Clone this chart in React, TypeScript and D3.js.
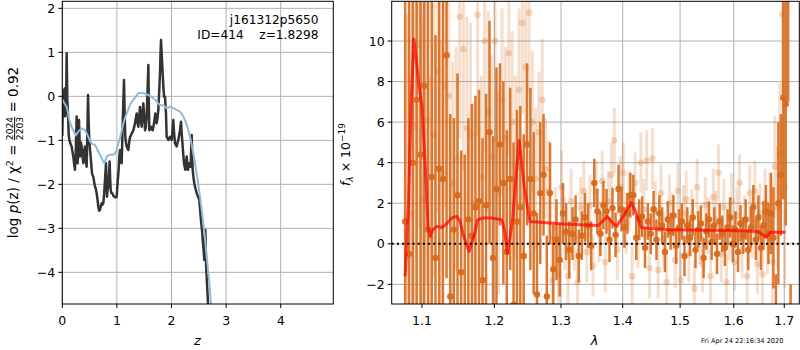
import * as d3 from 'd3';
import React from 'react';

// ---- left panel: log p(z) ----
const zTicks = [0, 1, 2, 3, 4];
const lnpTicks = [-4, -3, -2, -1, 0, 1, 2];

const pzZ = [0.000, 0.010, 0.019, 0.030, 0.043, 0.055, 0.068, 0.080, 0.092, 0.104, 0.116, 0.129, 0.150, 0.171, 0.185, 0.202, 0.218, 0.232, 0.248, 0.263, 0.281, 0.294, 0.306, 0.324, 0.340, 0.355, 0.370, 0.385, 0.400, 0.416, 0.431, 0.446, 0.460, 0.471, 0.483, 0.495, 0.507, 0.519, 0.531, 0.544, 0.568, 0.584, 0.599, 0.614, 0.629, 0.645, 0.660, 0.675, 0.690, 0.705, 0.721, 0.736, 0.751, 0.767, 0.782, 0.800, 0.819, 0.831, 0.843, 0.855, 0.867, 0.876, 0.886, 0.900, 0.916, 0.935, 0.953, 0.975, 0.996, 1.008, 1.020, 1.032, 1.045, 1.057, 1.072, 1.087, 1.097, 1.106, 1.118, 1.130, 1.142, 1.154, 1.166, 1.179, 1.194, 1.209, 1.225, 1.240, 1.255, 1.270, 1.285, 1.301, 1.316, 1.331, 1.346, 1.362, 1.377, 1.393, 1.408, 1.423, 1.438, 1.454, 1.469, 1.484, 1.500, 1.515, 1.530, 1.545, 1.560, 1.576, 1.585, 1.594, 1.606, 1.618, 1.636, 1.655, 1.667, 1.679, 1.692, 1.704, 1.716, 1.728, 1.743, 1.759, 1.774, 1.789, 1.798, 1.808, 1.823, 1.838, 1.850, 1.863, 1.881, 1.890, 1.899, 1.911, 1.927, 1.942, 1.957, 1.972, 1.988, 2.003, 2.018, 2.033, 2.048, 2.064, 2.080, 2.095, 2.110, 2.125, 2.141, 2.156, 2.174, 2.190, 2.205, 2.217, 2.229, 2.241, 2.253, 2.265, 2.278, 2.290, 2.302, 2.315, 2.327, 2.339, 2.351, 2.360, 2.369, 2.379, 2.388, 2.403, 2.418, 2.440, 2.461, 2.485, 2.510, 2.522, 2.534, 2.546, 2.559, 2.571, 2.583, 2.592, 2.601, 2.610, 2.620, 2.626, 2.632, 2.650, 2.669, 2.690];
const pzVal = [-0.90, -0.20, -0.46, 0.10, 0.18, -0.45, -0.30, 0.98, -0.10, -0.39, -0.85, -0.99, -1.08, -1.14, -1.25, -1.37, -1.55, -1.67, -1.20, -0.46, -1.52, -0.90, -0.54, -1.37, -1.05, -1.14, -1.35, -1.52, -1.25, -1.14, -1.45, -1.60, -0.80, 0.03, -0.60, -0.99, -1.20, -1.37, -1.55, -1.75, -1.83, -1.95, -2.05, -2.10, -2.20, -2.35, -2.51, -2.60, -2.58, -2.50, -2.43, -2.46, -2.43, -2.20, -1.90, -1.52, -2.28, -2.10, -2.05, -1.80, -1.48, -1.85, -2.13, -2.20, -2.20, -2.26, -2.28, -2.30, -2.28, -2.05, -1.85, -1.67, -1.35, -1.22, -1.40, -1.52, -1.10, -0.61, -0.10, 0.37, -0.40, -0.92, -1.05, -1.14, -1.18, -1.22, -1.05, -0.92, -0.90, -0.84, -0.82, -0.77, -0.70, -0.61, -0.50, -0.39, -0.60, -0.69, -0.45, -0.24, -0.50, -0.69, -0.40, -0.16, -0.45, -0.77, -0.70, -0.46, 0.10, 0.71, -0.20, -0.77, -0.72, -0.69, -0.75, -0.77, -0.70, -0.61, -0.50, -0.39, -0.55, -0.61, -0.50, -0.31, 0.10, 0.52, 0.95, 1.28, 0.90, 0.52, 0.25, -0.01, -0.01, -0.20, -0.39, -0.92, -0.95, -0.99, -0.95, -0.92, -0.95, -0.99, -0.80, -0.54, -0.85, -1.07, -1.10, -1.14, -1.05, -0.99, -0.88, -0.77, -0.58, -0.90, -1.14, -1.35, -1.52, -1.60, -1.67, -1.50, -1.37, -1.55, -1.67, -1.58, -1.52, -1.56, -1.60, -1.20, -0.88, -1.30, -1.67, -1.85, -1.98, -2.10, -2.20, -2.28, -2.36, -2.55, -2.74, -2.90, -3.04, -3.25, -3.42, -3.55, -3.72, -3.40, -3.04, -3.40, -3.80, -4.25, -4.71, -5.30];

const priorZ = [0.010, 0.019, 0.050, 0.080, 0.105, 0.129, 0.165, 0.202, 0.230, 0.251, 0.294, 0.355, 0.416, 0.450, 0.477, 0.510, 0.538, 0.570, 0.599, 0.630, 0.660, 0.690, 0.721, 0.745, 0.770, 0.790, 0.813, 0.840, 0.873, 0.935, 0.965, 0.996, 1.020, 1.045, 1.060, 1.090, 1.118, 1.150, 1.179, 1.210, 1.240, 1.270, 1.301, 1.340, 1.393, 1.440, 1.484, 1.530, 1.576, 1.637, 1.698, 1.730, 1.759, 1.789, 1.820, 1.850, 1.880, 1.911, 1.950, 1.973, 2.033, 2.095, 2.156, 2.190, 2.217, 2.250, 2.278, 2.310, 2.339, 2.370, 2.400, 2.430, 2.461, 2.490, 2.522, 2.550, 2.583, 2.615, 2.644, 2.670, 2.693, 2.723, 2.760];
const priorVal = [-0.08, -0.12, -0.18, -0.24, -0.38, -0.54, -0.68, -0.77, -0.85, -0.88, -0.80, -0.73, -0.77, -0.85, -0.92, -1.02, -1.07, -1.09, -1.11, -1.18, -1.26, -1.33, -1.41, -1.47, -1.52, -1.45, -1.37, -1.34, -1.33, -1.33, -1.30, -1.22, -1.10, -1.00, -0.92, -0.77, -0.61, -0.49, -0.39, -0.29, -0.20, -0.13, -0.08, -0.02, 0.07, 0.08, 0.07, 0.05, 0.03, -0.01, -0.08, -0.12, -0.16, -0.20, -0.20, -0.20, -0.23, -0.27, -0.25, -0.24, -0.27, -0.31, -0.35, -0.40, -0.46, -0.55, -0.65, -0.78, -0.92, -1.10, -1.30, -1.52, -1.75, -2.00, -2.28, -2.55, -2.89, -3.25, -3.64, -3.95, -4.25, -4.71, -5.30];

// ---- right panel: spectrum ----
const waveTicks = [1.1, 1.2, 1.3, 1.4, 1.5, 1.6, 1.7];
const fluxTicks = [-2, 0, 2, 4, 6, 8, 10];

const darkWave = [1.078, 1.083, 1.088, 1.093, 1.098, 1.103, 1.108, 1.113, 1.118, 1.123, 1.128, 1.133, 1.138, 1.143, 1.148, 1.153, 1.158, 1.163, 1.168, 1.173, 1.178, 1.183, 1.188, 1.193, 1.198, 1.203, 1.208, 1.213, 1.218, 1.223, 1.228, 1.233, 1.238, 1.243, 1.248, 1.253, 1.258, 1.263, 1.268, 1.273, 1.278, 1.283, 1.288, 1.293, 1.298, 1.303, 1.308, 1.313, 1.318, 1.323, 1.328, 1.333, 1.338, 1.343, 1.348, 1.353, 1.358, 1.363, 1.368, 1.373, 1.378, 1.383, 1.388, 1.393, 1.398, 1.403, 1.408, 1.413, 1.418, 1.423, 1.428, 1.433, 1.438, 1.443, 1.448, 1.453, 1.458, 1.463, 1.468, 1.473, 1.478, 1.483, 1.488, 1.493, 1.498, 1.503, 1.508, 1.513, 1.518, 1.523, 1.528, 1.533, 1.538, 1.543, 1.548, 1.553, 1.558, 1.563, 1.568, 1.573, 1.578, 1.583, 1.588, 1.593, 1.598, 1.603, 1.608, 1.613, 1.618, 1.623, 1.628, 1.633, 1.638, 1.643, 1.648, 1.653, 1.658, 1.663, 1.668, 1.673, 1.678, 1.683, 1.688, 1.693, 1.698, 1.703, 1.708, 1.713];
const darkFlux = [1.1, -0.5, 4.0, 7.1, 4.4, 7.8, 0.7, 3.3, -0.7, 3.7, 3.2, 9.3, -2.6, 0.7, 2.4, -1.4, -3.6, 1.2, 0.4, 1.8, 2.1, -1.8, 1.9, 5.5, -0.7, 2.7, 4.9, 3.0, -0.4, 3.2, -3.0, 1.1, 1.8, -0.6, 4.9, 3.2, 1.5, -2.5, 2.5, 3.4, -2.6, 2.5, -1.25, 0.2, -0.8, 1.5, 0.6, -0.3, 0.5, 1.2, -0.6, 0.4, 1.3, 0.9, -0.1, 3.0, 1.6, 0.5, 1.9, 1.6, 0.2, 1.76, 0.44, 2.7, 1.7, 0.8, 1.5, 2.4, 2.4, 0.3, 1.2, 1.35, -0.2, 1.1, 0.5, 1.7, 0.2, 1.5, 0.9, -0.4, 1.2, 0.6, 1.4, -0.1, 0.8, 1.1, -0.6, 0.9, 0.3, 1.3, -0.3, 0.7, 1.0, -0.7, 0.6, 1.2, 0.1, 0.9, -0.5, 1.1, 0.5, -0.2, 0.8, 1.3, 0.0, 0.7, -0.4, 1.0, 0.4, 1.2, -0.3, 0.8, 1.8, 0.2, 1.3, -0.2, 0.9, 1.6, 0.5, 1.5, 0.3, -5.0, 2.0, 3.4, 7.2, 6.9, 14.0, -6.0];
const darkErr = [16, 16, 15, 14, 13, 14, 12, 10, 11, 9.5, 10, 11, 9, 5.5, 6, 6, 8, 5, 6.5, 5.5, 5.5, 7, 5.5, 5.5, 6, 6, 4, 5, 6, 4.5, 8, 5.5, 5, 6, 4, 4.5, 4, 4, 3.5, 3, 3, 2.5, 2.2, 2, 1.8, 1.5, 1.4, 1.4, 1.3, 1.2, 1.3, 1.2, 1.2, 1.1, 1.2, 1.2, 1.1, 1.1, 1.2, 1.1, 1.1, 1.0, 1.1, 1.2, 1.1, 1.0, 1.0, 1.1, 1.0, 1.1, 1.0, 1.0, 1.0, 0.9, 1.0, 0.9, 1.0, 0.9, 0.9, 1.0, 0.9, 0.9, 1.0, 0.9, 0.9, 0.9, 1.0, 0.9, 0.9, 0.9, 0.9, 0.9, 0.9, 1.0, 0.9, 0.9, 0.9, 0.9, 1.0, 0.9, 0.9, 0.9, 0.9, 1.0, 0.9, 0.9, 1.0, 0.9, 0.9, 1.0, 1.0, 1.0, 1.1, 1.0, 1.1, 1.1, 1.2, 1.3, 1.5, 2, 2.5, 3.5, 4, 3, 5, 6, 7, 4];

const lightWave = [1.081, 1.086, 1.091, 1.096, 1.101, 1.106, 1.111, 1.116, 1.121, 1.126, 1.131, 1.136, 1.141, 1.146, 1.151, 1.156, 1.161, 1.166, 1.171, 1.176, 1.181, 1.186, 1.191, 1.196, 1.201, 1.206, 1.211, 1.216, 1.221, 1.226, 1.231, 1.236, 1.241, 1.246, 1.251, 1.256, 1.261, 1.266, 1.271, 1.276, 1.281, 1.286, 1.291, 1.296, 1.301, 1.306, 1.311, 1.316, 1.321, 1.326, 1.331, 1.336, 1.341, 1.346, 1.351, 1.356, 1.361, 1.366, 1.371, 1.376, 1.381, 1.386, 1.391, 1.396, 1.401, 1.406, 1.411, 1.416, 1.421, 1.426, 1.431, 1.436, 1.441, 1.446, 1.451, 1.456, 1.461, 1.466, 1.471, 1.476, 1.481, 1.486, 1.491, 1.496, 1.501, 1.506, 1.511, 1.516, 1.521, 1.526, 1.531, 1.536, 1.541, 1.546, 1.551, 1.556, 1.561, 1.566, 1.571, 1.576, 1.581, 1.586, 1.591, 1.596, 1.601, 1.606, 1.611, 1.616, 1.621, 1.626, 1.631, 1.636, 1.641, 1.646, 1.651, 1.656, 1.661, 1.666, 1.671, 1.676, 1.681, 1.686, 1.691, 1.696, 1.701];
const lightFlux = [-0.7, 1.5, 5.8, 9.8, 2.2, 6.1, 0.3, 5.4, 8.5, 3.5, 7.8, 7.3, 3.0, 4.2, 11.2, 9.6, 5.7, 5.4, 2.0, 11.3, 3.3, 10.0, 6.5, 4.3, 10.0, 2.5, 7.1, 5.2, 9.4, 6.0, 3.8, 7.6, 10.9, 8.7, 11.4, 6.0, 3.2, 5.5, 7.1, 3.7, 2.6, -1.8, 0.8, -1.5, 2.8, 0.5, -1.6, 2.1, 0.3, -1.9, 1.8, 2.6, -0.4, 1.9, -1.1, 2.6, 0.6, 3.1, -0.9, 2.1, 3.4, 5.1, -0.3, 2.8, 3.5, 1.0, 2.1, -1.6, 3.0, 0.3, 4.0, 1.7, 4.1, -1.2, 4.2, 1.6, -1.3, 2.5, 0.2, -1.9, 2.0, 1.1, -0.8, 2.6, -1.8, 1.5, 2.2, -0.5, 1.3, -2.2, 2.8, 0.4, -1.0, 1.9, 0.9, -1.6, 2.3, 1.2, 3.5, -0.5, 1.8, -1.9, 0.6, 2.1, -0.9, 1.4, 3.0, -0.3, 1.0, -1.6, 2.5, 0.8, 2.6, -1.0, 1.5, -1.5, 2.0, 0.3, 1.5, -0.9, 3.8, 1.8, 4.4, 11.3, 2.8];
const lightErr = [12, 11, 10, 9, 9, 8, 8, 7, 7, 6.5, 6, 6, 6, 5.5, 6, 6, 5.5, 5.5, 5, 6, 5, 5.5, 5, 5, 5, 5, 4.5, 4.5, 5, 4.5, 4.5, 4, 4.5, 4, 4, 3.5, 3.5, 3, 3, 2.5, 2.5, 2.2, 2, 2, 1.8, 1.8, 1.7, 1.6, 1.6, 1.6, 1.5, 1.5, 1.5, 1.5, 1.5, 1.5, 1.5, 1.5, 1.5, 1.5, 1.6, 1.6, 1.5, 1.5, 1.5, 1.5, 1.5, 1.5, 1.5, 1.5, 1.5, 1.5, 1.5, 1.5, 1.5, 1.5, 1.4, 1.4, 1.4, 1.4, 1.4, 1.4, 1.4, 1.4, 1.4, 1.4, 1.4, 1.4, 1.4, 1.4, 1.4, 1.4, 1.4, 1.4, 1.4, 1.4, 1.4, 1.4, 1.4, 1.4, 1.4, 1.4, 1.4, 1.4, 1.4, 1.4, 1.4, 1.4, 1.4, 1.4, 1.4, 1.5, 1.5, 1.5, 1.5, 1.6, 1.7, 1.8, 2, 2.5, 2.5, 3, 3.5, 4, 5];

const modelWave = [1.0779, 1.0824, 1.0859, 1.0891, 1.091, 1.0957, 1.1, 1.1044, 1.108, 1.111, 1.1145, 1.12, 1.1266, 1.1334, 1.14, 1.147, 1.1515, 1.156, 1.16, 1.164, 1.167, 1.172, 1.176, 1.184, 1.195, 1.204, 1.211, 1.2155, 1.2187, 1.2215, 1.227, 1.2305, 1.2362, 1.2439, 1.2523, 1.303, 1.3594, 1.3743, 1.381, 1.3897, 1.4008, 1.4147, 1.423, 1.432, 1.4463, 1.4814, 1.5952, 1.647, 1.6569, 1.6636, 1.6722, 1.7025];
const modelFlux = [-1.6, 2.2, 7.1, 10.1, 9.6, 7.9, 6.8, 3.8, 0.85, 0.36, 0.7, 0.86, 0.8, 1.0, 1.27, 1.35, 1.1, 0.44, 0.03, -0.38, -0.05, 0.53, 1.18, 1.27, 1.27, 1.22, 1.18, 0.53, -0.46, 0.03, 1.35, 2.83, 5.1, 2.8, 1.1, 0.97, 0.9, 1.35, 1.1, 0.86, 1.35, 2.04, 1.5, 0.8, 0.76, 0.69, 0.66, 0.6, 0.44, 0.33, 0.57, 0.57];

const gridColor = '#b0b0b0';
const specColor = '#d76a1c';
const font = 'DejaVu Sans, sans-serif';
const minus = (n: number) => (n < 0 ? '\u2212' + Math.abs(n) : String(n));

function LeftPanel() {
  const x0 = 62.3, x1 = 333.3, y0 = 1.3, y1 = 304;
  const x = d3.scaleLinear().domain([0, 4.963]).range([x0, x1]);
  const y = d3.scaleLinear().domain([-4.72, 2.16]).range([y1, y0]);
  const pz = d3.line<number>().x((d, i) => x(pzZ[i])).y(d => y(d))(pzVal) || '';
  const prior = d3.line<number>().x((d, i) => x(priorZ[i])).y(d => y(d))(priorVal) || '';
  return (
    <g>
      <defs>
        <clipPath id="clipL"><rect x={x0} y={y0} width={x1 - x0} height={y1 - y0} /></clipPath>
      </defs>
      {zTicks.map(t => (
        <line key={'gx' + t} x1={x(t)} x2={x(t)} y1={y0} y2={y1} stroke={gridColor} strokeWidth={1} />
      ))}
      {lnpTicks.map(t => (
        <line key={'gy' + t} x1={x0} x2={x1} y1={y(t)} y2={y(t)} stroke={gridColor} strokeWidth={1} />
      ))}
      <g clipPath="url(#clipL)">
        <path d={pz} fill="none" stroke="#333" strokeWidth={2.5} strokeLinejoin="round" />
        <path d={prior} fill="none" stroke="#8fbbd9" strokeWidth={2} />
      </g>
      <rect x={x0} y={y0} width={x1 - x0} height={y1 - y0} fill="none" stroke="#000" strokeWidth={1} />
      {zTicks.map(t => (
        <g key={'tx' + t}>
          <line x1={x(t)} x2={x(t)} y1={y1} y2={y1 + 4} stroke="#000" />
          <text x={x(t)} y={325} textAnchor="middle" fontSize={12.5}>{minus(t)}</text>
        </g>
      ))}
      {lnpTicks.map(t => (
        <g key={'ty' + t}>
          <line x1={x0 - 4} x2={x0} y1={y(t)} y2={y(t)} stroke="#000" />
          <text x={x0 - 7} y={y(t)} dy="0.36em" textAnchor="end" fontSize={12.5}>{minus(t)}</text>
        </g>
      ))}
      <text x={318.5} y={23.5} textAnchor="end" fontSize={12.2}>j161312p5650</text>
      <text x={318.5} y={38.5} textAnchor="end" fontSize={12.2} style={{ whiteSpace: 'pre' }}>{'ID=414    z=1.8298'}</text>
      <text x={197.5} y={344.5} textAnchor="middle" fontSize={13} fontStyle="italic">z</text>
      <g transform="translate(18,152.5) rotate(-90)">
        <text x={0} y={0} textAnchor="middle" fontSize={13.5}>
          {'log '}<tspan fontStyle="italic">p</tspan>{'(z) / \u03c7'}
          <tspan fontSize={9.5} dy={-5.5}>2</tspan>
          <tspan dy={5.5}>{' = '}</tspan>
          <tspan fontSize={9.2} dy={-4.8} textDecoration="underline">2024</tspan>
          <tspan fontSize={9.2} dx={-23.4} dy={10}>2203</tspan>
          <tspan dy={-5.2}>{' = 0.92'}</tspan>
        </text>
      </g>
    </g>
  );
}

function RightPanel() {
  const x0 = 391.7, x1 = 799.3, y0 = 1.3, y1 = 304;
  const x = d3.scaleLog().domain([1.0607, 1.731]).range([x0, x1]);
  const y = d3.scaleLinear().domain([-2.97, 11.96]).range([y1, y0]);
  const model = d3.line<number>().x((d, i) => x(modelWave[i])).y(d => y(d))(modelFlux) || '';
  return (
    <g>
      <defs>
        <clipPath id="clipR"><rect x={x0} y={y0} width={x1 - x0} height={y1 - y0} /></clipPath>
      </defs>
      {waveTicks.map(t => (
        <line key={'gx' + t} x1={x(t)} x2={x(t)} y1={y0} y2={y1} stroke={gridColor} strokeWidth={1} />
      ))}
      {fluxTicks.map(t => (
        <line key={'gy' + t} x1={x0} x2={x1} y1={y(t)} y2={y(t)} stroke={gridColor} strokeWidth={1} />
      ))}
      <g clipPath="url(#clipR)">
        {lightFlux.map((v, i) => (
          <line key={'le' + i} x1={x(lightWave[i])} x2={x(lightWave[i])} y1={y(v - lightErr[i])} y2={y(v + lightErr[i])}
            stroke={specColor} strokeOpacity={0.22} strokeWidth={3} />
        ))}
        {lightFlux.map((v, i) => (
          <circle key={'lp' + i} cx={x(lightWave[i])} cy={y(v)} r={3.3} fill={specColor} fillOpacity={0.25} />
        ))}
        {darkFlux.map((v, i) => (
          <line key={'de' + i} x1={x(darkWave[i])} x2={x(darkWave[i])} y1={y(v - darkErr[i])} y2={y(v + darkErr[i])}
            stroke={specColor} strokeOpacity={0.9} strokeWidth={2.5} />
        ))}
        {darkFlux.map((v, i) => (
          <circle key={'dp' + i} cx={x(darkWave[i])} cy={y(v)} r={3.2} fill={specColor} fillOpacity={0.95} />
        ))}
        <path d={model} fill="none" stroke="red" strokeOpacity={0.7} strokeWidth={3} strokeLinejoin="round" />
        <line x1={x0} x2={x1} y1={y(0)} y2={y(0)} stroke="#000" strokeWidth={2} strokeDasharray="2 3.2" />
      </g>
      <rect x={x0} y={y0} width={x1 - x0} height={y1 - y0} fill="none" stroke="#000" strokeWidth={1} />
      {waveTicks.map(t => (
        <g key={'tx' + t}>
          <line x1={x(t)} x2={x(t)} y1={y1} y2={y1 + 4} stroke="#000" />
          <text x={x(t)} y={325} textAnchor="middle" fontSize={12.5}>{t.toFixed(1)}</text>
        </g>
      ))}
      {fluxTicks.map(t => (
        <g key={'ty' + t}>
          <line x1={x0 - 4} x2={x0} y1={y(t)} y2={y(t)} stroke="#000" />
          <text x={x0 - 7} y={y(t)} dy="0.36em" textAnchor="end" fontSize={12.5}>{minus(t)}</text>
        </g>
      ))}
      <text x={594.5} y={345} textAnchor="middle" fontSize={13} fontStyle="italic">{'\u03bb'}</text>
      <g transform="translate(349.5,154.5) rotate(-90)">
        <text x={0} y={0} textAnchor="middle" fontSize={12.5}>
          <tspan fontStyle="italic">f</tspan>
          <tspan fontSize={9} dy={3} fontStyle="italic">{'\u03bb'}</tspan>
          <tspan dy={-3}>{' \u00d7 10'}</tspan>
          <tspan fontSize={9} dy={-5}>{'\u221219'}</tspan>
        </text>
      </g>
      <text x={701} y={342.5} fontSize={6.6}>Fri Apr 24 22:16:34 2020</text>
    </g>
  );
}

export default function App() {
  return (
    <svg width={800} height={350} fontFamily={font}
      style={{ position: 'absolute', left: 0, top: 0, background: '#fff' }}>
      <LeftPanel />
      <RightPanel />
    </svg>
  );
}
